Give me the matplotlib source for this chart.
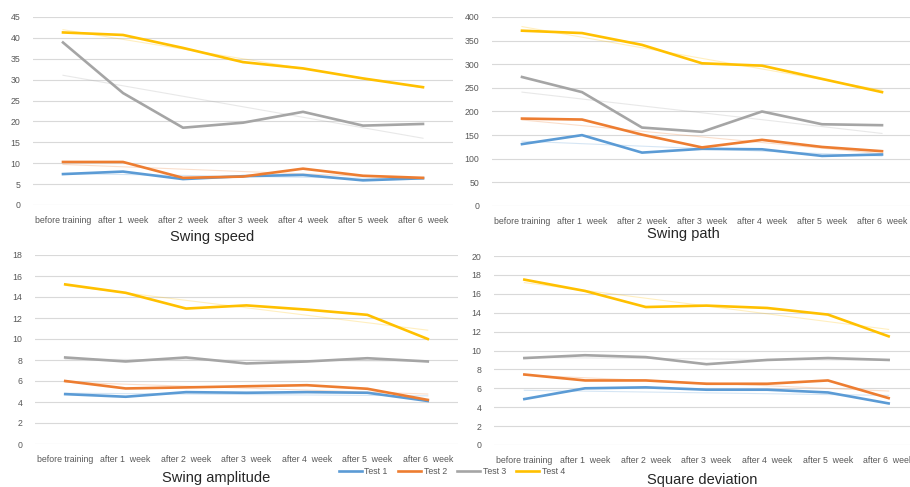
import numpy as np
import matplotlib
matplotlib.use("Agg")
import matplotlib.pyplot as plt

CATEGORIES = ["before training", "after 1  week", "after 2  week", "after 3  week",
              "after 4  week", "after 5  week", "after 6  week"]
SERIES = ["Test 1", "Test 2", "Test 3", "Test 4"]
COLORS = ["#5B9BD5", "#ED7D31", "#A5A5A5", "#FFC000"]

speed_t1 = [7.4, 8.0, 6.2, 6.9, 7.2, 5.9, 6.4]
speed_t2 = [10.3, 10.3, 6.5, 6.8, 8.7, 7.0, 6.5]
speed_t3 = [38.9, 26.8, 18.5, 19.7, 22.3, 19.0, 19.4]
speed_t4 = [41.3, 40.7, 37.6, 34.2, 32.7, 30.3, 28.2]

path_t1 = [131, 150, 113, 121, 120, 106, 109]
path_t2 = [185, 183, 151, 124, 140, 125, 116]
path_t3 = [273, 241, 166, 157, 200, 173, 171]
path_t4 = [371, 366, 341, 302, 297, 269, 241]

amp_t1 = [4.75, 4.5, 4.94, 4.88, 4.94, 4.88, 4.1]
amp_t2 = [6.0, 5.29, 5.39, 5.5, 5.6, 5.26, 4.2]
amp_t3 = [8.24, 7.86, 8.24, 7.67, 7.86, 8.17, 7.86]
amp_t4 = [15.2, 14.4, 12.9, 13.2, 12.8, 12.3, 10.0]

dev_t1 = [4.86, 6.0, 6.1, 5.85, 5.85, 5.56, 4.4]
dev_t2 = [7.46, 6.83, 6.83, 6.48, 6.48, 6.83, 4.96]
dev_t3 = [9.2, 9.5, 9.3, 8.55, 9.0, 9.2, 9.0]
dev_t4 = [17.5, 16.3, 14.6, 14.75, 14.5, 13.8, 11.5]

panels = [
    ("Swing speed", [speed_t1, speed_t2, speed_t3, speed_t4], 45, 5,
     [33, 17, 420, 188], (212, 237)),
    ("Swing path", [path_t1, path_t2, path_t3, path_t4], 400, 50,
     [492, 17, 420, 189], (683, 234)),
    ("Swing amplitude", [amp_t1, amp_t2, amp_t3, amp_t4], 18, 2,
     [35, 255, 423, 189], (216, 478)),
    ("Square deviation", [dev_t1, dev_t2, dev_t3, dev_t4], 20, 2,
     [494, 256, 425, 189], (702, 480)),
]

W, H = 910, 487
fig = plt.figure(figsize=(W / 100, H / 100), dpi=100)
plt.rcParams["font.family"] = ["Liberation Sans", "DejaVu Sans"]

x = np.arange(len(CATEGORIES))
legend_handles = []
for title, data, ymax, step, (px, py, pw, ph), (tx, ty) in panels:
    ax = fig.add_axes([px / W, 1 - (py + ph) / H, pw / W, ph / H])
    legend_handles = []
    for vals, color, name in zip(data, COLORS, SERIES):
        # faint linear trendline, as in the original spreadsheet chart
        coef = np.polyfit(x, vals, 1)
        ax.plot(x, np.polyval(coef, x), color=color, lw=0.8, alpha=0.25, zorder=2)
        line, = ax.plot(x, vals, color=color, lw=1.9, label=name, zorder=3,
                        solid_joinstyle="round")
        legend_handles.append(line)
    ax.set_xlim(-0.5, len(CATEGORIES) - 0.5)
    ax.set_ylim(0, ymax)
    ax.set_yticks(np.arange(0, ymax + step / 2, step))
    ax.set_xticks(x)
    ax.set_xticklabels(CATEGORIES)
    ax.tick_params(axis="both", length=0, labelsize=6.3, colors="#595959")
    ax.tick_params(axis="x", pad=8)
    ax.tick_params(axis="y", pad=9)
    ax.grid(axis="y", color="#D9D9D9", lw=0.8)
    ax.set_axisbelow(True)
    for s in ax.spines.values():
        s.set_visible(False)
    fig.text(tx / W, 1 - ty / H, title, ha="center", va="center",
             fontsize=10.5, color="#262626")

fig.legend(legend_handles, SERIES, loc="center", bbox_to_anchor=(452 / W, 1 - 472 / H),
           ncol=4, frameon=False, fontsize=6.3, handlelength=2.6, handletextpad=0.3,
           columnspacing=1.2, labelcolor="#595959")

fig.savefig("out.png", dpi=100)
